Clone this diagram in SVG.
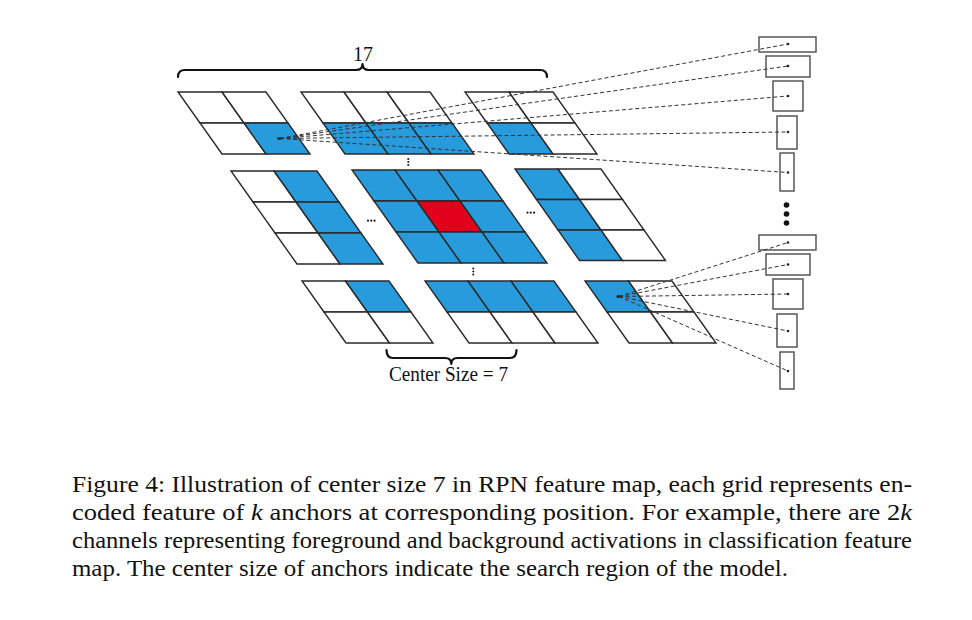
<svg xmlns="http://www.w3.org/2000/svg" width="972" height="620" viewBox="0 0 972 620">
<style>
.c{stroke:#2a2a2a;stroke-width:1.4;stroke-linejoin:miter}
.w{fill:#ffffff}
.b{fill:#279bdb}
.r{fill:#e2001a}
.box{fill:#ffffff;stroke:#4a4a4a;stroke-width:1.4}
.dash{stroke:#333;stroke-width:1;stroke-dasharray:4 2.6;fill:none}
.pt{fill:#222}
.brace{fill:none;stroke:#111;stroke-width:2.2;stroke-linecap:round;stroke-linejoin:round}
.lbl{font-family:"Liberation Serif","Times New Roman",serif;fill:#111}
.cap{font-family:"Liberation Serif","Times New Roman",serif;font-size:23.5px;fill:#111}
</style>
<rect width="972" height="620" fill="#ffffff"/>

<!-- Top row -->
<g id="grid-top-left">
<polygon class="c w" points="178,92 222,92 244,123 200,123"/>
<polygon class="c w" points="222,92 266,92 288,123 244,123"/>
<polygon class="c w" points="200,123 244,123 266,154 222,154"/>
<polygon class="c b" points="244,123 288,123 310,154 266,154"/>
</g>
<g id="grid-top-mid">
<polygon class="c w" points="301,92 344,92 366,123 323,123"/>
<polygon class="c w" points="344,92 387,92 409,123 366,123"/>
<polygon class="c w" points="387,92 430,92 452,123 409,123"/>
<polygon class="c b" points="323,123 366,123 388,154 345,154"/>
<polygon class="c b" points="366,123 409,123 431,154 388,154"/>
<polygon class="c b" points="409,123 452,123 474,154 431,154"/>
</g>
<g id="grid-top-right">
<polygon class="c w" points="465,92 509,92 531,123 487,123"/>
<polygon class="c w" points="509,92 553,92 575,123 531,123"/>
<polygon class="c b" points="487,123 531,123 553,154 509,154"/>
<polygon class="c w" points="531,123 575,123 597,154 553,154"/>
</g>

<!-- Middle row -->
<g id="grid-mid-left">
<polygon class="c w" points="231,171 274,171 296,202 253,202"/>
<polygon class="c b" points="274,171 317,171 339,202 296,202"/>
<polygon class="c w" points="253,202 296,202 318,233 275,233"/>
<polygon class="c b" points="296,202 339,202 361,233 318,233"/>
<polygon class="c w" points="275,233 318,233 340,264 297,264"/>
<polygon class="c b" points="318,233 361,233 383,264 340,264"/>
</g>
<g id="grid-mid-center">
<polygon class="c b" points="352,170 395,170 417,201 374,201"/>
<polygon class="c b" points="395,170 438,170 460,201 417,201"/>
<polygon class="c b" points="438,170 481,170 503,201 460,201"/>
<polygon class="c b" points="374,201 417,201 439,232 396,232"/>
<polygon class="c r" points="417,201 460,201 482,232 439,232"/>
<polygon class="c b" points="460,201 503,201 525,232 482,232"/>
<polygon class="c b" points="396,232 439,232 461,263 418,263"/>
<polygon class="c b" points="439,232 482,232 504,263 461,263"/>
<polygon class="c b" points="482,232 525,232 547,263 504,263"/>
</g>
<g id="grid-mid-right">
<polygon class="c b" points="515,169 558,169 579.5,199.5 536.5,199.5"/>
<polygon class="c w" points="558,169 601,169 622.5,199.5 579.5,199.5"/>
<polygon class="c b" points="536.5,199.5 579.5,199.5 601,230 558,230"/>
<polygon class="c w" points="579.5,199.5 622.5,199.5 644,230 601,230"/>
<polygon class="c b" points="558,230 601,230 622.5,260.5 579.5,260.5"/>
<polygon class="c w" points="601,230 644,230 665.5,260.5 622.5,260.5"/>
</g>

<!-- Bottom row -->
<g id="grid-bottom-left">
<polygon class="c w" points="302,281 345.5,281 367.5,312 324,312"/>
<polygon class="c b" points="345.5,281 389,281 411,312 367.5,312"/>
<polygon class="c w" points="324,312 367.5,312 389.5,343 346,343"/>
<polygon class="c w" points="367.5,312 411,312 433,343 389.5,343"/>
</g>
<g id="grid-bottom-center">
<polygon class="c b" points="425,281 468,281 490,312 447,312"/>
<polygon class="c b" points="468,281 511,281 533,312 490,312"/>
<polygon class="c b" points="511,281 554,281 576,312 533,312"/>
<polygon class="c w" points="447,312 490,312 512,343 469,343"/>
<polygon class="c w" points="490,312 533,312 555,343 512,343"/>
<polygon class="c w" points="533,312 576,312 598,343 555,343"/>
</g>
<g id="grid-bottom-right">
<polygon class="c b" points="585,281 628.5,281 650.5,312 607,312"/>
<polygon class="c w" points="628.5,281 672,281 694,312 650.5,312"/>
<polygon class="c w" points="607,312 650.5,312 672.5,343 629,343"/>
<polygon class="c w" points="650.5,312 694,312 716,343 672.5,343"/>
</g>

<!-- ellipses between grids -->
<g id="ellipsis-marks" class="pt">
<circle cx="408.3" cy="159" r="1.1"/><circle cx="408.3" cy="162" r="1.1"/><circle cx="408.3" cy="165" r="1.1"/>
<circle cx="473.3" cy="268.5" r="1.1"/><circle cx="473.3" cy="271.5" r="1.1"/><circle cx="473.3" cy="274.5" r="1.1"/>
<circle cx="368" cy="220.7" r="1.1"/><circle cx="371.3" cy="220.7" r="1.1"/><circle cx="374.6" cy="220.7" r="1.1"/>
<circle cx="527.5" cy="212.7" r="1.1"/><circle cx="530.8" cy="212.7" r="1.1"/><circle cx="534.1" cy="212.7" r="1.1"/>
</g>

<!-- Braces and labels -->
<g id="brace-17">
<path class="brace" d="M178,77 Q178,70 185,70 L356,70 Q362.5,70 362.5,64 Q362.5,70 369,70 L540,70 Q547,70 547,77"/>
<text class="lbl" x="363" y="60.5" font-size="20" text-anchor="middle">17</text>
</g>
<g id="brace-center-size">
<path class="brace" d="M386.5,350 Q386.5,358 393,358 L445,358 Q451.3,358 451.3,364 Q451.3,358 457.5,358 L510,358 Q516.5,358 516.5,350"/>
<text class="lbl" x="389" y="381" font-size="21" textLength="119" lengthAdjust="spacingAndGlyphs">Center Size = 7</text>
</g>

<!-- Anchor boxes, upper set -->
<g id="anchors-upper">
<rect class="box" x="759" y="37" width="57" height="15"/>
<rect class="box" x="766" y="56" width="44" height="21"/>
<rect class="box" x="773" y="81" width="30" height="30"/>
<rect class="box" x="777" y="116" width="20" height="33"/>
<rect class="box" x="780" y="153" width="14" height="38"/>
</g>
<g id="anchors-dots" fill="#111">
<circle cx="786.5" cy="205" r="2.8"/>
<circle cx="786.5" cy="214" r="2.8"/>
<circle cx="786.5" cy="223" r="2.8"/>
</g>
<g id="anchors-lower">
<rect class="box" x="759" y="235" width="57" height="15"/>
<rect class="box" x="766" y="254" width="44" height="21"/>
<rect class="box" x="773" y="279" width="30" height="30"/>
<rect class="box" x="777" y="314" width="20" height="33"/>
<rect class="box" x="780" y="352" width="14" height="37"/>
</g>

<!-- Connectors -->
<g id="connectors">
<path class="dash" d="M280,138.5 L788,44"/>
<path class="dash" d="M280,138.5 L788,66"/>
<path class="dash" d="M280,138.5 L788,96"/>
<path class="dash" d="M280,138.5 L788,132"/>
<path class="dash" d="M280,138.5 L788,172.5"/>
<path class="dash" d="M619,296.5 L788,242.5"/>
<path class="dash" d="M619,296.5 L788,264.5"/>
<path class="dash" d="M619,296.5 L788,294"/>
<path class="dash" d="M619,296.5 L788,331"/>
<path class="dash" d="M619,296.5 L788,371"/>
<g class="pt">
<rect x="277.5" y="137.3" width="4" height="2.4"/>
<rect x="616.5" y="295.3" width="4" height="2.4"/>
<circle cx="788" cy="44" r="1.3"/><circle cx="788" cy="66" r="1.3"/><circle cx="788" cy="96" r="1.3"/><circle cx="788" cy="132" r="1.3"/><circle cx="788" cy="172.5" r="1.3"/>
<circle cx="788" cy="242.5" r="1.3"/><circle cx="788" cy="264.5" r="1.3"/><circle cx="788" cy="294" r="1.3"/><circle cx="788" cy="331" r="1.3"/><circle cx="788" cy="371" r="1.3"/>
</g>
</g>

<!-- Caption -->
<g id="caption">
<text class="cap" x="72" y="491.5" textLength="840" lengthAdjust="spacingAndGlyphs">Figure 4: Illustration of center size 7 in RPN feature map, each grid represents en-</text>
<text class="cap" x="72" y="519.5" textLength="840" lengthAdjust="spacingAndGlyphs">coded feature of <tspan font-style="italic">k</tspan> anchors at corresponding position.  For example, there are 2<tspan font-style="italic">k</tspan></text>
<text class="cap" x="72" y="547.5" textLength="840" lengthAdjust="spacingAndGlyphs">channels representing foreground and background activations in classification feature</text>
<text class="cap" x="72" y="575.5" textLength="716" lengthAdjust="spacingAndGlyphs">map. The center size of anchors indicate the search region of the model.</text>
</g>
</svg>
